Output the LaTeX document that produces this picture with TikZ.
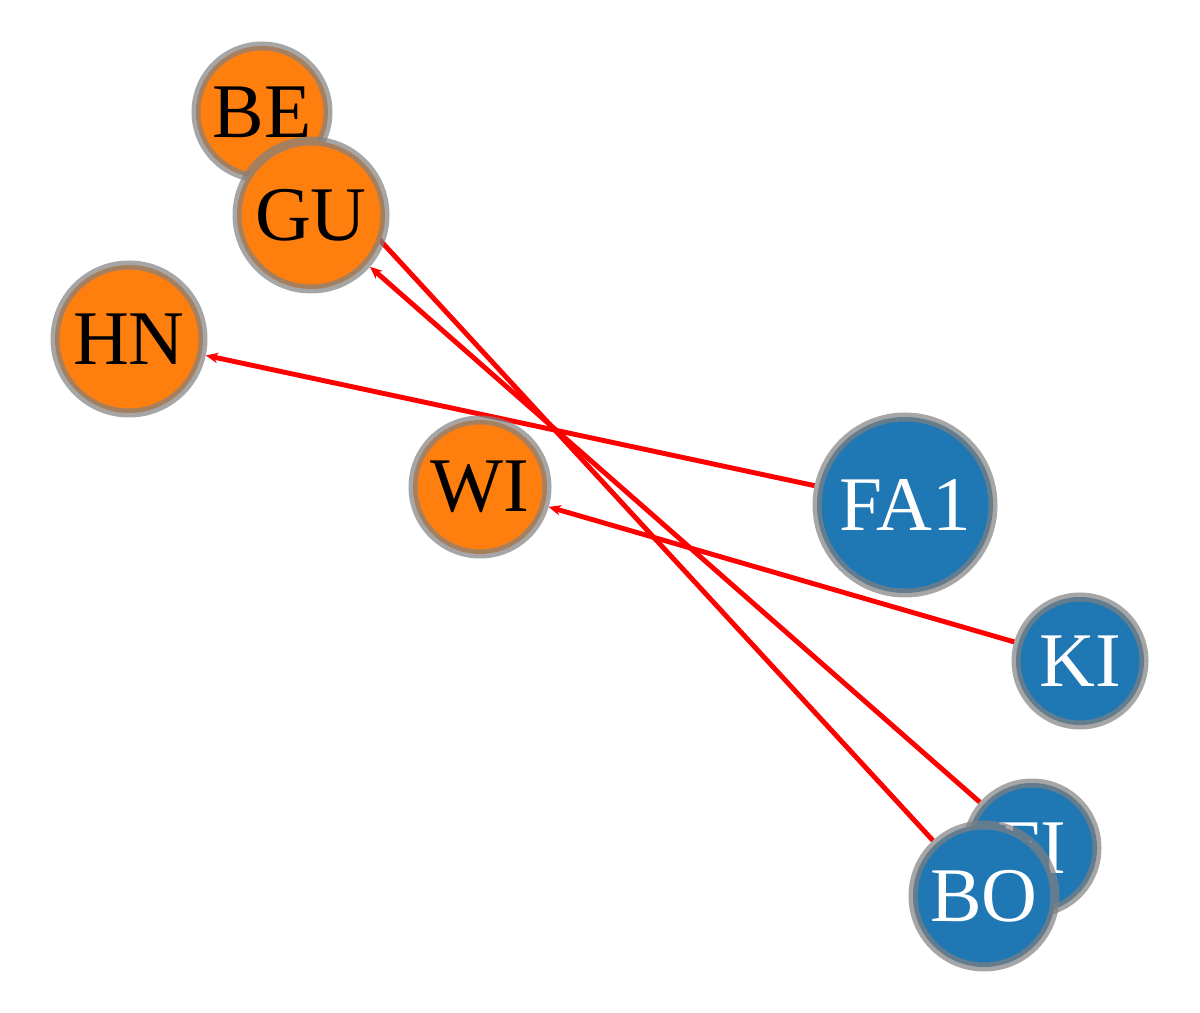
\documentclass[tikz,border=0pt]{standalone}
\usepackage{fontspec}
\setmainfont{Liberation Serif}
\usetikzlibrary{arrows.meta}
\pgfdeclarelayer{background}
\pgfsetlayers{background,main}

\begin{document}
\begin{tikzpicture}[
    team/.style={circle, draw=gray, draw opacity=0.7, line width=0.18cm, inner sep=0pt, font=\fontsize{44}{44}\selectfont},
    home/.style={team, fill={rgb,255:red,255;green,127;blue,14}, text=black},
    away/.style={team, fill={rgb,255:red,31;green,119;blue,180}, text=white},
    arrow/.style={-{Stealth[length=7pt, width=6pt]}, line width=2.8pt, red}
]
\useasboundingbox (0,0) rectangle (24,20.24);

% Orange teams
\node[home, minimum size=2.64cm] (be) at (5.24,18.00) {BE};
\node[home, minimum size=2.96cm] (gu) at (6.22,15.94) {GU};
\node[home, minimum size=2.96cm] (hn) at (2.58,13.46) {HN};
\node[home, minimum size=2.68cm] (wi) at (9.60,10.50) {WI};

% Blue teams
\node[away, minimum size=3.52cm] (fa1) at (18.10,10.14) {FA1};
\node[away, minimum size=2.56cm] (ki) at (21.60,7.02) {KI};
\node[away, minimum size=2.60cm] (fi) at (20.64,3.28) {FI};
\node[away, minimum size=2.84cm] (bo) at (19.68,2.32) {BO};

% Edges
\begin{pgfonlayer}{background}
\draw[arrow] (fa1) -- (hn);
\draw[arrow] (ki) -- (wi);
\draw[arrow] (fi) -- (gu);
\draw[arrow] (bo) -- (be);
\end{pgfonlayer}

\end{tikzpicture}
\end{document}
